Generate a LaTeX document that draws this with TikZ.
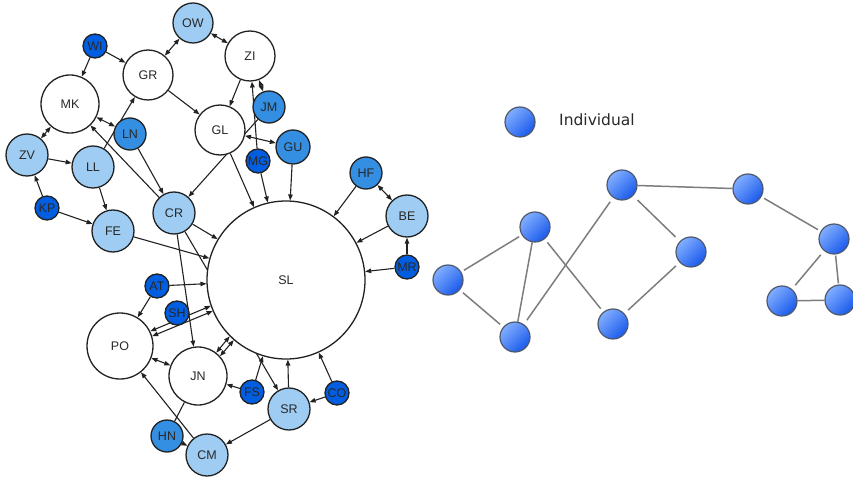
\documentclass[tikz,border=0pt]{standalone}
\usepackage{fontspec}
\newfontfamily\lblfont{Liberation Sans}
\newfontfamily\legfont{DejaVu Sans}
\usetikzlibrary{arrows.meta,calc}
\definecolor{inkc}{RGB}{34,34,34}
\definecolor{txtc}{RGB}{40,40,40}
\definecolor{palec}{RGB}{158,204,242}
\definecolor{midc}{RGB}{52,142,226}
\definecolor{deepc}{RGB}{2,94,224}
\definecolor{ballhi}{RGB}{130,174,255}
\definecolor{balllo}{RGB}{26,90,236}
\definecolor{ballrim}{RGB}{78,88,108}
\definecolor{linkc}{RGB}{125,125,125}
\pgfdeclarelayer{edges}
\pgfsetlayers{edges,main}
\begin{document}
\begin{tikzpicture}[x=1pt,y=-1pt,
  >={Triangle[length=6pt,width=4.5pt]},
  person/.style={circle, draw=inkc, line width=1.3pt, inner sep=0pt,
    minimum size={2*#1}, font=\lblfont\fontsize{12.5}{14}\selectfont, text=txtc},
  nwhite/.style={person=#1, fill=white},
  npale/.style={person=#1, fill=palec},
  nmid/.style={person=#1, fill=midc},
  ndeep/.style={person=#1, fill=deepc},
  tie/.style={draw=inkc, line width=1.1pt},
  ball/.style={circle, draw=ballrim, line width=1.2pt, inner sep=0pt, minimum size=30,
    top color=ballhi, bottom color=balllo, shading angle=45},
  link/.style={draw=linkc, line width=1.5pt},
  edgegap/.style={shorten <=#1, shorten >=#1}]
\useasboundingbox (0,0) rectangle (853,478);

% ---- social network ----
\node[npale=20]  (OW) at (193,23)  {OW};
\node[nwhite=25] (ZI) at (250,56)  {ZI};
\node[ndeep=12]  (WI) at (95,46)   {WI};
\node[nwhite=25] (GR) at (148,75)  {GR};
\node[nwhite=29] (MK) at (70,104)  {MK};
\node[nmid=16]   (JM) at (269,107) {JM};
\node[nwhite=25] (GL) at (220,130) {GL};
\node[nmid=16]   (LN) at (130,134) {LN};
\node[npale=21]  (ZV) at (27,155)  {ZV};
\node[npale=21]  (LL) at (93,167)  {LL};
\node[ndeep=12]  (MG) at (258,161) {MG};
\node[nmid=17]   (GU) at (293,147) {GU};
\node[nmid=16]   (HF) at (366,173) {HF};
\node[npale=21]  (BE) at (407,216) {BE};
\node[ndeep=12]  (MR) at (407,267) {MR};
\node[ndeep=12]  (KP) at (47,208)  {KP};
\node[npale=21]  (FE) at (113,231) {FE};
\node[npale=21]  (CR) at (174,213) {CR};
\node[nwhite=79] (SL) at (286,280) {SL};
\node[ndeep=12]  (AT) at (157,286) {AT};
\node[ndeep=12]  (SH) at (177,313) {SH};
\node[nwhite=33] (PO) at (120,346) {PO};
\node[nwhite=29] (JN) at (198,376) {JN};
\node[ndeep=12]  (FS) at (252,392) {FS};
\node[ndeep=12]  (CO) at (337,393) {CO};
\node[npale=21]  (SR) at (289,409) {SR};
\node[nmid=16]   (HN) at (167,436) {HN};
\node[npale=21]  (CM) at (207,455) {CM};

\begin{pgfonlayer}{edges}
\draw[tie,->]  (WI) -- (MK);
\draw[tie,->]  (WI) -- (GR);
\draw[tie,<->] (GR) -- (OW);
\draw[tie,<->] (OW) -- (ZI);
\draw[tie,->]  (GR) -- (GL);
\draw[tie,->]  (ZI) -- (GL);
\draw[tie,->]  (MG) -- (ZI);
\draw[tie,<->] (JM) -- (ZI);
\draw[tie,<->] (GL) -- (GU);
\draw[tie,->]  (JM) -- (CR);
\draw[tie,->]  (GL) -- (SL);
\draw[tie,->]  (MG) -- (SL);
\draw[tie,->]  (GU) -- (SL);
\draw[tie,->]  (HF) -- (SL);
\draw[tie,<->] (HF) -- (BE);
\draw[tie,->]  (BE) -- (SL);
\draw[tie,->]  (MR) -- (BE);
\draw[tie,->]  (MR) -- (SL);
\draw[tie,->]  (LL) -- (GR);
\draw[tie,<->] (MK) -- (LN);
\draw[tie,->]  (LN) -- (CR);
\draw[tie,->]  (CR) -- (MK);
\draw[tie,<->] (ZV) -- (MK);
\draw[tie,->]  (ZV) -- (LL);
\draw[tie,->]  (KP) -- (ZV);
\draw[tie,->]  (KP) -- (FE);
\draw[tie,->]  (LL) -- (FE);
\draw[tie,->]  (FE) -- (SL);
\draw[tie,->]  (CR) -- (SL);
\draw[tie,->]  (CR) -- (JN);
\draw[tie,->]  (CR) -- (SR);
\draw[tie,->]  (AT) -- (SL);
\draw[tie,->]  (AT) -- (PO);
\draw[tie,<->] (PO.26) -- (SL.199.9);
\draw[tie,<->] (PO.17.3) -- (SL.203.5);
\draw[tie,<->] (PO) -- (JN);
\draw[tie,<->] (JN.52.5) -- (SL.225.7);
\draw[tie,<->] (JN.42.5) -- (SL.229.3);
\draw[tie,->]  (FS) -- (JN);
\draw[tie,->]  (FS) -- (SL);
\draw[tie,->]  (SR) -- (SL);
\draw[tie,->]  (CO) -- (SL);
\draw[tie,->]  (CO) -- (SR);
\draw[tie,->]  (SR) -- (CM);
\draw[tie,->]  (CM) -- (PO);
\draw[tie,->]  (HN) -- (CM);
\draw[tie]     (HN) -- (JN);
\end{pgfonlayer}

% ---- legend ----
\node[ball] (legendball) at (520,122) {};
\node[anchor=west, inner sep=0pt, text=txtc, font=\legfont\fontsize{15.5}{17}\selectfont]
  (legendtext) at (559,120) {Individual};

% ---- generic network of individuals ----
\node[ball] (pa) at (535,227) {};
\node[ball] (pb) at (448,280) {};
\node[ball] (pc) at (515,337) {};
\node[ball] (pd) at (622,185) {};
\node[ball] (pe) at (691,252) {};
\node[ball] (pf) at (613,324) {};
\node[ball] (pg) at (748,189) {};
\node[ball] (ph) at (834,239) {};
\node[ball] (pi) at (782,301) {};
\node[ball] (pj) at (840,300) {};

\begin{pgfonlayer}{edges}
\draw[link,edgegap=3pt] (pa) -- (pb);
\draw[link]             (pa) -- (pc);
\draw[link,edgegap=4pt] (pa) -- (pf);
\draw[link,edgegap=4pt] (pb) -- (pc);
\draw[link,edgegap=5pt] (pc) -- (pd);
\draw[link,edgegap=6pt] (pd) -- (pe);
\draw[link,edgegap=5pt] (pf) -- (pe);
\draw[link]             (pd) -- (pg);
\draw[link,edgegap=3pt] (pg) -- (ph);
\draw[link,edgegap=5pt] (ph) -- (pi);
\draw[link,edgegap=1pt] (ph) -- (pj);
\draw[link]             (pi) -- (pj);
\end{pgfonlayer}
\end{tikzpicture}
\end{document}
